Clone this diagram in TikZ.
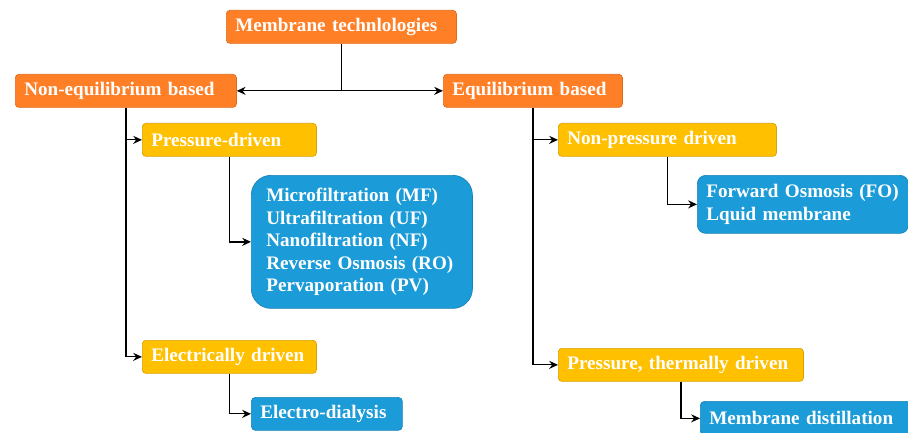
\documentclass[tikz,border=0pt]{standalone}
\usepackage{fontspec}
\setmainfont{Liberation Serif}
\usepackage{tikz}
\usetikzlibrary{arrows.meta}
\definecolor{boxorange}{HTML}{FF7F27}
\definecolor{edgeorange}{HTML}{E0691C}
\definecolor{boxyellow}{HTML}{FFC000}
\definecolor{edgeyellow}{HTML}{D9A200}
\definecolor{boxblue}{HTML}{1B9BD7}
\definecolor{edgeblue}{HTML}{1784B8}
\begin{document}
\begin{tikzpicture}[x=0.025cm,y=-0.025cm,
  font=\fontsize{13.6}{16}\selectfont\bfseries,
  basebox/.style={anchor=north west,text=white,align=left,inner xsep=0.225cm,inner ysep=0pt,minimum height=0.825cm,line width=0.5pt,rounded corners=2.5pt},
  orangebox/.style={basebox,fill=boxorange,draw=edgeorange},
  yellowbox/.style={basebox,fill=boxyellow,draw=edgeyellow},
  bluebox/.style={basebox,fill=boxblue,draw=edgeblue},
  link/.style={-{Stealth[length=2.2mm,width=2mm]},line width=0.9pt}]
\useasboundingbox (0,0) rectangle (908,433);
%Node Coordinates
\node at (226,10) [orangebox,text width=5.3cm] (Top) {Membrane technlologies};
\node at (15,74) [orangebox,text width=5.075cm] (NonEq) {Non-equilibrium based};
\node at (443,74) [orangebox,text width=4.025cm] (Eq) {Equilibrium based};
\node at (142,123) [yellowbox,text width=3.9cm] (Press) {Pressure-driven};
\node at (142,340) [yellowbox,text width=3.9cm] (Elec) {Electrically driven};
\node at (558,123) [yellowbox,text width=5.0cm] (NonPress) {Non-pressure driven};
\node at (558,348) [yellowbox,text width=5.675cm] (Thermal) {Pressure, thermally driven};
\node at (251,175) [bluebox,text width=4.775cm,inner xsep=0.375cm,minimum height=3.325cm,rounded corners=14pt] (Filt) {Microfiltration (MF)\\Ultrafiltration (UF)\\Nanofiltration (NF)\\Reverse Osmosis (RO)\\Pervaporation (PV)};
\node at (251,397) [bluebox,text width=3.325cm,rounded corners=3pt] (Dialysis) {Electro-dialysis};
\node at (697,175) [bluebox,text width=4.825cm,minimum height=1.45cm,rounded corners=6pt] (Osmosis) {Forward Osmosis (FO)\\Lquid membrane};
\node at (700,401) [bluebox,text width=4.925cm,minimum height=0.85cm,rounded corners=3pt] (Distill) {Membrane distillation};
%connections
\coordinate (Split) at (Top.south |- NonEq.east);
\draw [line width=0.9pt] (Top.south) -- (Split);
\draw [link] (Split) -- (NonEq.east);
\draw [link] (Split) -- (Eq.west);
\draw [link] (NonEq.south) |- (Press.west);
\draw [link] (NonEq.south) |- (Elec.west);
\draw [link] (Press.south) |- (Filt.west);
\draw [link] (Elec.south) |- (Dialysis.west);
\draw [link] (Eq.south) |- (NonPress.west);
\draw [link] (Eq.south) |- (Thermal.west);
\draw [link] (NonPress.south) |- (Osmosis.west);
\draw [link] (Thermal.south) |- (Distill.west);
\end{tikzpicture}
\end{document}
